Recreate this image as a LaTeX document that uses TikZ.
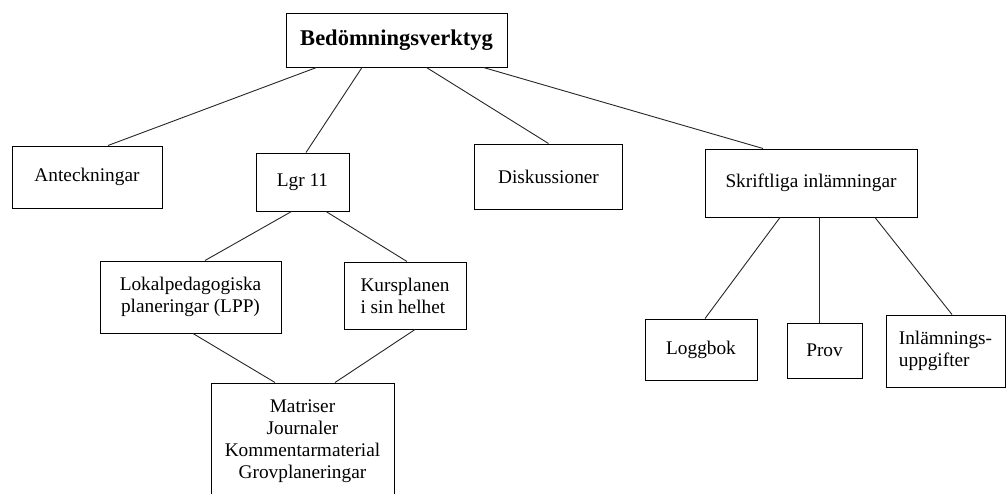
\documentclass[tikz,border=0pt]{standalone}
\usepackage{fontspec}
\setmainfont{Liberation Serif}
\usepackage{tikz}
\tikzset{>=stealth}
\tikzset{
  box/.style={draw, line width=1pt, inner sep=0pt, align=center,
    font=\fontsize{19.3}{22}\selectfont},
  conn/.style={line width=0.9pt, black!85}
}

\begin{document}
\begin{tikzpicture}[x=1pt, y=-1pt]
  \useasboundingbox (0,0) rectangle (1006,493);
  \clip (0,0) rectangle (1006,493);
  \node[box, minimum width=221pt, minimum height=54pt,
        font=\fontsize{22.5}{26}\selectfont\bfseries] (top) at (396.5,40) {Bedömningsverktyg};
  \node[box, minimum width=150pt, minimum height=62pt] (ant) at (87,177) {Anteckningar};
  \node[box, minimum width=93pt, minimum height=58pt] (lgr) at (302.5,182) {Lgr 11};
  \node[box, minimum width=148pt, minimum height=65pt] (disk) at (548.5,176.5) {Diskussioner};
  \node[box, minimum width=212pt, minimum height=68pt] (skr) at (811,183) {Skriftliga inlämningar};
  \node[box, minimum width=181pt, minimum height=72pt] (lpp) at (190.5,297) {Lokalpedagogiska\\planeringar (LPP)};
  \node[box, minimum width=122pt, minimum height=67pt, align=left] (kurs) at (405,295.5) {Kursplanen\\i sin helhet};
  \node[box, minimum width=183pt, minimum height=117pt] (mat) at (302.5,441.5) {Matriser\\Journaler\\Kommentarmaterial\\Grovplaneringar};
  \node[box, minimum width=112pt, minimum height=61pt] (logg) at (701,349.5) {Loggbok};
  \node[box, minimum width=75pt, minimum height=55pt] (prov) at (824.5,350.5) {Prov};
  \node[box, minimum width=119pt, minimum height=72pt, align=left] (inl) at (945.5,351) {Inlämnings-\\uppgifter};

  \draw[conn] ([xshift=-80pt]top.south) -- ([xshift=21pt]ant.north);
  \draw[conn] ([xshift=-34.5pt]top.south) -- ([xshift=3.5pt]lgr.north);
  \draw[conn] ([xshift=30pt]top.south) -- (disk.north);
  \draw[conn] ([xshift=87pt]top.south) -- ([xshift=-48pt]skr.north);
  \draw[conn] ([xshift=-11pt]lgr.south) -- ([xshift=14.5pt]lpp.north);
  \draw[conn] ([xshift=23.5pt]lgr.south) -- ([xshift=2pt]kurs.north);
  \draw[conn] ([xshift=2.5pt]lpp.south) -- ([xshift=-27.5pt]mat.north);
  \draw[conn] ([xshift=10pt]kurs.south) -- ([xshift=32.5pt]mat.north);
  \draw[conn] ([xshift=-31pt]skr.south) -- ([xshift=4pt]logg.north);
  \draw[conn] ([xshift=8pt]skr.south) -- ([xshift=-5.5pt]prov.north);
  \draw[conn] ([xshift=64pt]skr.south) -- ([xshift=6.5pt]inl.north);
\end{tikzpicture}
\end{document}
